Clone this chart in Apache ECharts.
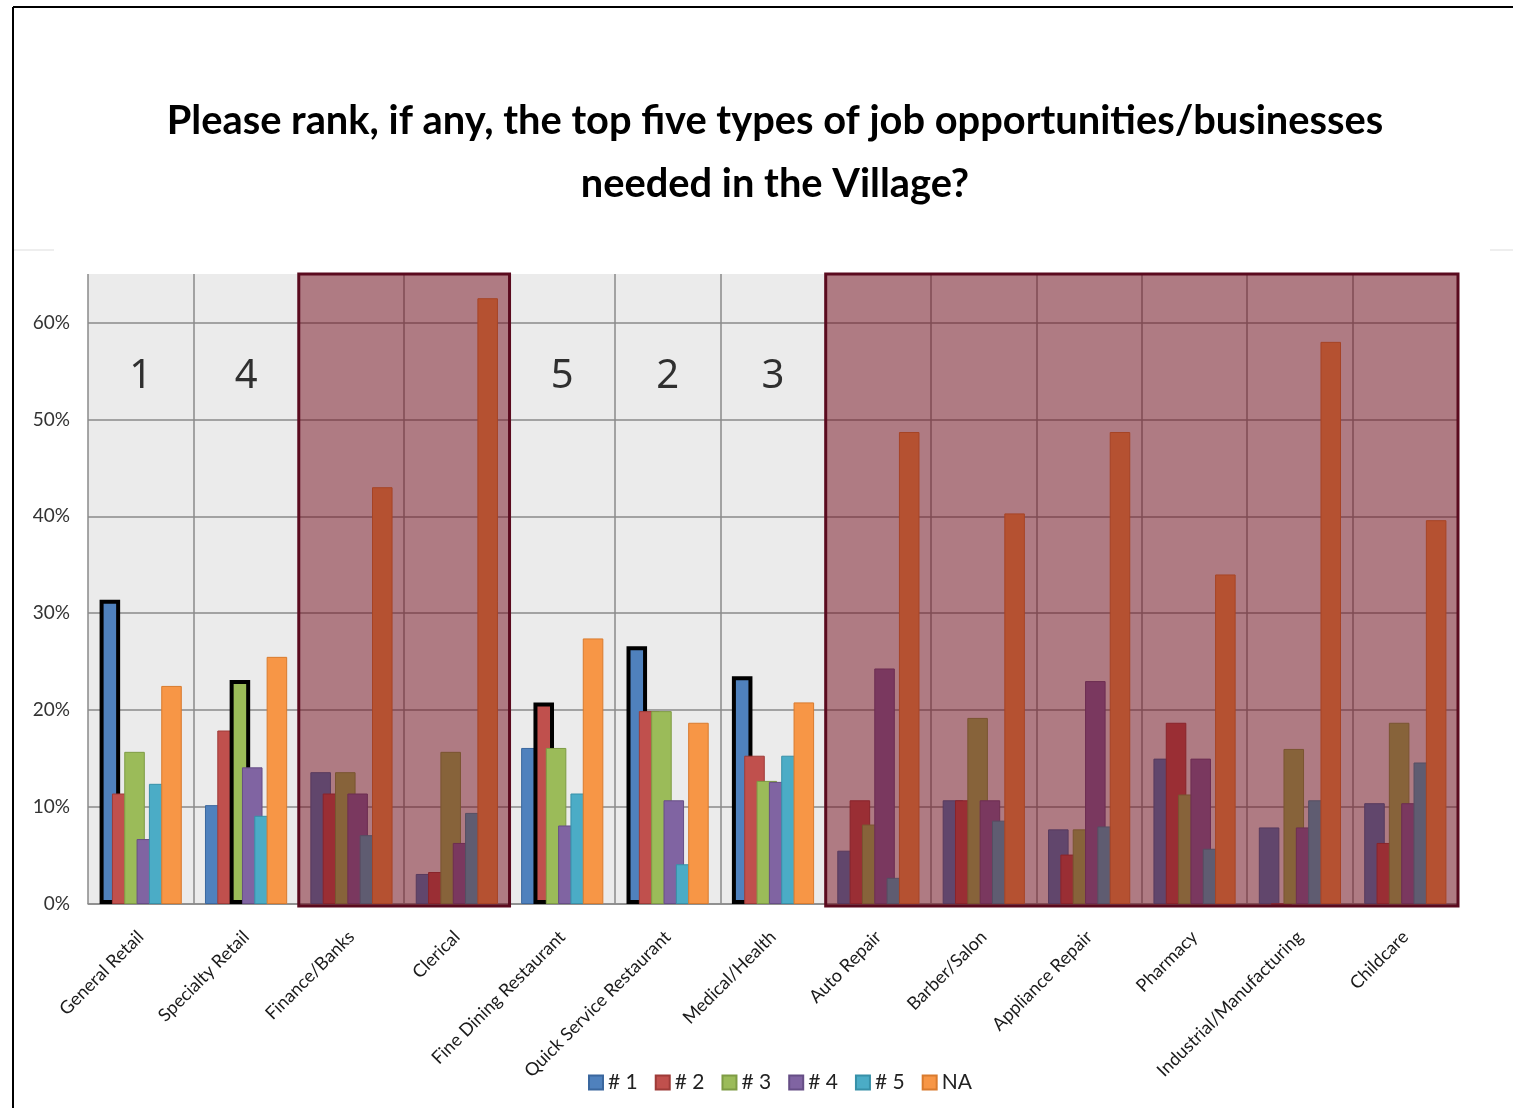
<!DOCTYPE html>
<html>
<head>
<meta charset="utf-8">
<title>Top five types of job opportunities/businesses</title>
<script src="https://cdn.jsdelivr.net/npm/echarts@6/dist/echarts.min.js"></script>
<style>
  html, body { margin: 0; padding: 0; background: #ffffff; }
  #chart { width: 1513px; height: 1108px; }
</style>
</head>
<body>
<div id="chart"></div>
<script>
// Survey categories (x axis)
const categories = [
  'General Retail', 'Specialty Retail', 'Finance/Banks', 'Clerical',
  'Fine Dining Restaurant', 'Quick Service Restaurant', 'Medical/Health',
  'Auto Repair', 'Barber/Salon', 'Appliance Repair', 'Pharmacy',
  'Industrial/Manufacturing', 'Childcare'
];

// Share of respondents (%) giving each rank
const rank1 = [31.4, 10.2, 13.6, 3.1, 16.1, 26.6, 23.5, 5.5, 10.7, 7.7, 15.0, 7.9, 10.4];
const rank2 = [11.4, 17.9, 11.4, 3.3, 20.8, 19.9, 15.3, 10.7, 10.7, 5.1, 18.7, 0, 6.3];
const rank3 = [15.7, 23.1, 13.6, 15.7, 16.1, 19.9, 12.7, 8.2, 19.2, 7.7, 11.3, 16.0, 18.7];
const rank4 = [6.7, 14.1, 11.4, 6.3, 8.1, 10.7, 12.6, 24.3, 10.7, 23.0, 15.0, 7.9, 10.4];
const rank5 = [12.4, 9.1, 7.1, 9.4, 11.4, 4.1, 15.3, 2.7, 8.6, 8.0, 5.7, 10.7, 14.6];
const rankNA = [22.5, 25.5, 43.0, 62.5, 27.4, 18.7, 20.8, 48.7, 40.3, 48.7, 34.0, 58.0, 39.6];

const seriesNames = ['# 1', '# 2', '# 3', '# 4', '# 5', 'NA'];
const seriesValues = [rank1, rank2, rank3, rank4, rank5, rankNA];

// Overall placing of the top five categories, and which rank bar is outlined
const overallRank = ['1', '4', '', '', '5', '2', '3', '', '', '', '', '', ''];
const outlinedSeries = [0, 2, -1, -1, 1, 0, 0, -1, -1, -1, -1, -1, -1];

// Category index ranges that are not in the top five (shaded)
const shadedRanges = [[2, 3], [7, 12]];

// Y axis
const yMin = 0;
const yMax = 65;
const yStep = 10;

const palette = ['#4F81BD', '#C0504D', '#9BBB59', '#8064A2', '#4BACC6', '#F79646'];
const edges = ['#3A679E', '#9E3B38', '#7E9C44', '#664E86', '#3790A8', '#D97B2E'];

const labelFont = 'Lato, "Open Sans", "Liberation Sans", sans-serif';

const barSeries = seriesValues.map((vals, si) => ({
  name: seriesNames[si],
  type: 'bar',
  barGap: '-40%',
  barCategoryGap: '22%',
  z: 2,
  itemStyle: { color: palette[si], borderColor: edges[si], borderWidth: 1 },
  emphasis: { disabled: true },
  data: vals.map((v, ci) => outlinedSeries[ci] === si
    ? { value: v, itemStyle: { borderColor: '#000000', borderWidth: 4 } }
    : v)
}));

// Shaded boxes over the categories outside the top five
const shadeSeries = {
  type: 'custom',
  name: 'shade',
  z: 5,
  silent: true,
  clip: false,
  data: shadedRanges,
  renderItem: function (params, api) {
    const a = api.coord([api.value(0), 0]);
    const b = api.coord([api.value(1), 0]);
    const bw = api.size([1, 0])[0];
    const cs = params.coordSys;
    return {
      type: 'rect',
      shape: { x: a[0] - bw / 2, y: cs.y, width: b[0] - a[0] + bw, height: cs.height + 2 },
      style: { fill: 'rgba(116,12,28,0.5)', stroke: '#5a0a1e', lineWidth: 3 }
    };
  }
};

// Big rank numbers above the top five categories
const rankSeries = {
  type: 'scatter',
  name: 'rank',
  z: 6,
  silent: true,
  symbolSize: 0,
  data: overallRank.map((r, i) => r ? [i, 54.4] : null).filter(Boolean),
  label: {
    show: true,
    position: 'inside',
    formatter: p => overallRank[p.value[0]],
    fontFamily: '"Noto Sans", "DejaVu Sans", sans-serif',
    fontSize: 40,
    color: '#000000'
  }
};

const gridLineColors = [];
for (let v = yMin; v <= yMax; v += yStep) gridLineColors.push('#8a8a8a');
gridLineColors.push('rgba(0,0,0,0)');

const chart = echarts.init(document.getElementById('chart'), null, { renderer: 'canvas' });

chart.setOption({
  animation: false,
  backgroundColor: '#ffffff',
  title: {
    text: 'Please rank, if any, the top five types of job opportunities/businesses\nneeded in the Village?',
    left: 770,
    top: 85,
    textAlign: 'center',
    textStyle: {
      fontFamily: labelFont,
      fontWeight: 'bold',
      fontSize: 39.8,
      lineHeight: 63,
      color: '#000000'
    }
  },
  graphic: [
    { type: 'line', shape: { x1: 13, y1: 7, x2: 1513, y2: 7 }, style: { stroke: '#000', lineWidth: 2 }, silent: true },
    { type: 'line', shape: { x1: 13, y1: 7, x2: 13, y2: 1108 }, style: { stroke: '#000', lineWidth: 2 }, silent: true },
    { type: 'line', shape: { x1: 14, y1: 250, x2: 54, y2: 250 }, style: { stroke: '#dddddd', lineWidth: 1 }, silent: true },
    { type: 'line', shape: { x1: 1490, y1: 250, x2: 1513, y2: 250 }, style: { stroke: '#dddddd', lineWidth: 1 }, silent: true }
  ],
  legend: {
    data: seriesNames,
    left: 583,
    top: 1067,
    itemWidth: 14,
    itemHeight: 14,
    itemGap: 17,
    icon: 'rect',
    selectedMode: false,
    textStyle: { fontFamily: labelFont, fontSize: 21, color: '#222222' }
  },
  grid: {
    left: 88,
    right: 55,
    top: 274,
    bottom: 204,
    show: true,
    backgroundColor: '#ebebeb',
    borderWidth: 0
  },
  xAxis: {
    type: 'category',
    data: categories,
    boundaryGap: true,
    axisLine: { show: true, lineStyle: { color: '#8a8a8a', width: 1.5 } },
    axisTick: { show: false },
    splitLine: { show: true, lineStyle: { color: '#8a8a8a', width: 1.5 } },
    axisLabel: {
      interval: 0,
      rotate: 45,
      margin: 30,
      fontFamily: labelFont,
      fontSize: 18,
      color: '#1a1a1a'
    }
  },
  yAxis: {
    type: 'value',
    min: yMin,
    max: yMax,
    interval: yStep,
    axisLine: { show: false },
    axisTick: { show: false },
    splitLine: { show: true, lineStyle: { color: gridLineColors, width: 1.5 } },
    axisLabel: {
      showMaxLabel: false,
      formatter: '{value}%',
      margin: 18,
      fontFamily: labelFont,
      fontSize: 19,
      color: '#333333'
    }
  },
  series: [...barSeries, shadeSeries, rankSeries]
});
</script>
</body>
</html>
